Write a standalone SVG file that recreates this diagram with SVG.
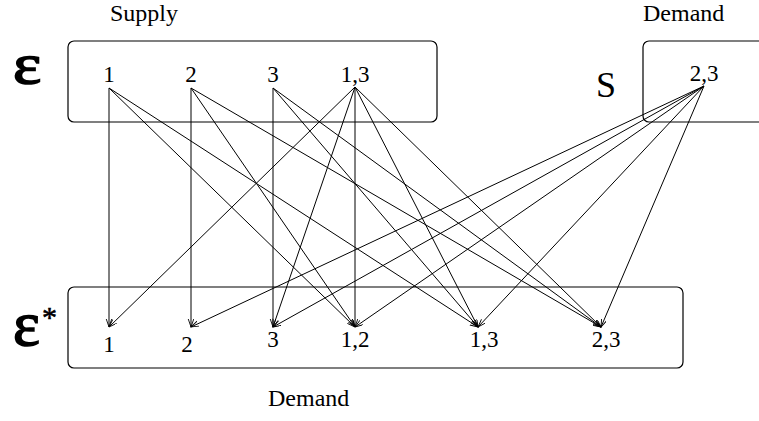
<svg xmlns="http://www.w3.org/2000/svg" width="759" height="421" viewBox="0 0 759 421">
<style>
text{font-family:"Liberation Serif","Times New Roman",serif;fill:#000}
.lbl{font-size:23px;text-anchor:middle}
.ttl{font-size:24px}
.sym{stroke:#000;stroke-width:1.6}
.box{fill:none;stroke:#000;stroke-width:1.2}
.e{stroke:#000;stroke-width:1;fill:none;marker-end:url(#ah)}
</style>
<defs>
<marker id="ah" markerWidth="9" markerHeight="7" refX="8" refY="2.75" orient="auto" markerUnits="userSpaceOnUse">
<path d="M0,0 L8,2.75 L0,5.5" fill="none" stroke="#000" stroke-width="0.9"/>
</marker>
</defs>
<text class="ttl" x="110" y="21">Supply</text>
<text class="ttl" x="643" y="21">Demand</text>
<text class="ttl" x="268" y="406">Demand</text>
<g id="supply">
<rect class="box" x="68" y="41" width="369" height="81" rx="6"/>
<text class="sym" transform="translate(13,83) scale(1.2,1)" style="font-size:56px">ε</text>
<text class="lbl" x="109" y="82">1</text>
<text class="lbl" x="191" y="82">2</text>
<text class="lbl" x="273" y="82">3</text>
<text class="lbl" x="355" y="82">1,3</text>
</g>
<g id="S">
<rect class="box" x="643" y="41" width="130" height="81" rx="6"/>
<text x="596" y="97" style="font-size:36px">S</text>
<text class="lbl" x="704" y="81">2,3</text>
</g>
<g id="demand">
<rect class="box" x="68" y="287" width="615" height="81" rx="6"/>
<text class="sym" x="13" y="345" style="font-size:64px">ε</text>
<text x="42" y="327" style="font-size:30px;stroke:#000;stroke-width:0.6">*</text>
<text class="lbl" x="109" y="352">1</text>
<text class="lbl" x="187" y="352">2</text>
<text class="lbl" x="273" y="347">3</text>
<text class="lbl" x="355" y="347">1,2</text>
<text class="lbl" x="484" y="347">1,3</text>
<text class="lbl" x="606" y="347">2,3</text>
</g>
<g id="connectors">
<line class="e" x1="109" y1="88" x2="109" y2="327"/>
<line class="e" x1="109" y1="88" x2="355" y2="327"/>
<line class="e" x1="109" y1="88" x2="478" y2="327"/>
<line class="e" x1="191" y1="88" x2="191" y2="327"/>
<line class="e" x1="191" y1="88" x2="355" y2="327"/>
<line class="e" x1="191" y1="88" x2="601" y2="327"/>
<line class="e" x1="273" y1="88" x2="273" y2="327"/>
<line class="e" x1="273" y1="88" x2="478" y2="327"/>
<line class="e" x1="273" y1="88" x2="601" y2="327"/>
<line class="e" x1="355" y1="87" x2="109" y2="327"/>
<line class="e" x1="355" y1="87" x2="273" y2="327"/>
<line class="e" x1="355" y1="87" x2="355" y2="327"/>
<line class="e" x1="355" y1="87" x2="478" y2="327"/>
<line class="e" x1="355" y1="87" x2="601" y2="327"/>
<line class="e" x1="704" y1="86" x2="191" y2="327"/>
<line class="e" x1="704" y1="86" x2="273" y2="327"/>
<line class="e" x1="704" y1="86" x2="355" y2="327"/>
<line class="e" x1="704" y1="86" x2="478" y2="327"/>
<line class="e" x1="704" y1="86" x2="601" y2="327"/>
</g>
</svg>
